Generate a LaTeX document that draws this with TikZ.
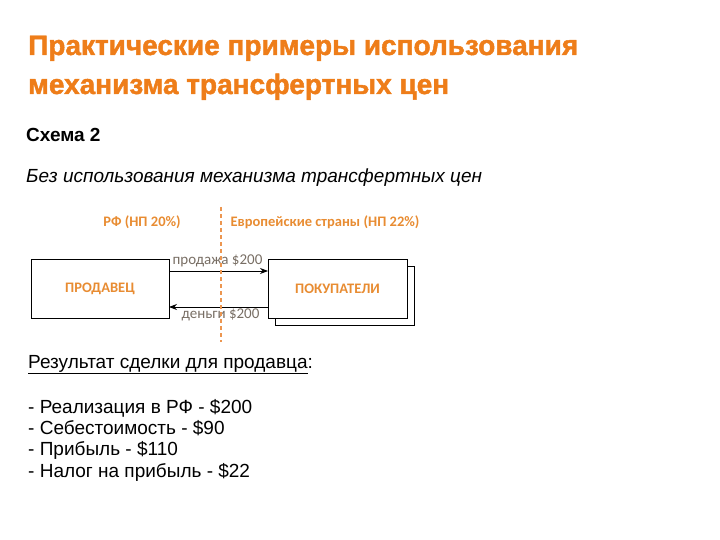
\documentclass[tikz,border=0pt]{standalone}
\usepackage{fontspec}
\setmainfont{Liberation Sans}
\newfontfamily\calib{Carlito}
\newfontfamily\ttlfont[FakeBold=1.6]{Liberation Sans Bold}
\usetikzlibrary{arrows.meta}
\definecolor{ttlorange}{RGB}{238,125,25}
\definecolor{lblorange}{RGB}{232,140,50}
\definecolor{dashorange}{RGB}{236,150,80}
\definecolor{lblgray}{RGB}{120,110,100}
\tikzset{
  ttl/.style={anchor=base west, inner sep=0pt, text=ttlorange, font=\ttlfont\fontsize{28}{30}\selectfont},
  body/.style={anchor=base west, inner sep=0pt, font=\fontsize{19}{21}\selectfont},
  box/.style={draw=black, line width=0.9pt, fill=white, minimum width=138pt, minimum height=59pt, inner sep=0pt,
    font=\calib\bfseries\fontsize{14.5}{16}\selectfont, text=lblorange},
  region/.style={inner sep=0pt, font=\calib\bfseries\fontsize{14.5}{16}\selectfont, text=lblorange},
  flow/.style={inner sep=0pt, font=\calib\fontsize{15}{16}\selectfont, text=lblgray},
  conn/.style={draw=black, line width=0.8pt, -{Stealth[length=8pt,width=6pt]}},
}
\begin{document}
\begin{tikzpicture}[x=1pt,y=-1pt]
\useasboundingbox (0,0) rectangle (720,540);
% title
\node[ttl] (t1) at (28,55) {Практические примеры использования};
\node[ttl] (t2) at (28,94) {механизма трансфертных цен};
% heading
\node[body, font=\fontsize{19}{21}\selectfont\bfseries] (s2) at (26,142) {Схема 2};
\node[body, font=\fontsize{19}{21}\selectfont\itshape] (sub) at (26,183) {Без использования механизма трансфертных цен};
% diagram
\node[region] (rf) at (142,222) {РФ (НП 20\%)};
\node[region] (eu) at (325,222) {Европейские страны (НП 22\%)};
\node[box, minimum width=139pt] (back) at (344.5,295.5) {};
\node[box] (seller) at (100,288.5) {ПРОДАВЕЦ};
\node[box, minimum width=139pt] (buyer) at (337.5,288.5) {ПОКУПАТЕЛИ};
\coordinate (a1s) at (169,271);
\coordinate (a1e) at (268,271);
\coordinate (a2s) at (268,307);
\coordinate (a2e) at (169,307);
\draw[conn] (a1s) -- (a1e);
\draw[conn] (a2s) -- (a2e);
\node[flow] (sale) at (217.5,261) {продажа \$200};
\node[flow] (money) at (220.5,315) {деньги \$200};
\coordinate (dtop) at (221,207);
\coordinate (dbot) at (221,342);
\draw[dashorange, line width=1.4pt, dash pattern=on 4pt off 3pt] (dtop) -- (dbot);
% result
\node[body] (res) at (28,368) {\underline{Результат сделки для продавца}:};
\node[body] (l1) at (28,413) {- Реализация в РФ - \$200};
\node[body] (l2) at (28,434.5) {- Себестоимость - \$90};
\node[body] (l3) at (28,455.5) {- Прибыль - \$110};
\node[body] (l4) at (28,477) {- Налог на прибыль - \$22};
\end{tikzpicture}
\end{document}
